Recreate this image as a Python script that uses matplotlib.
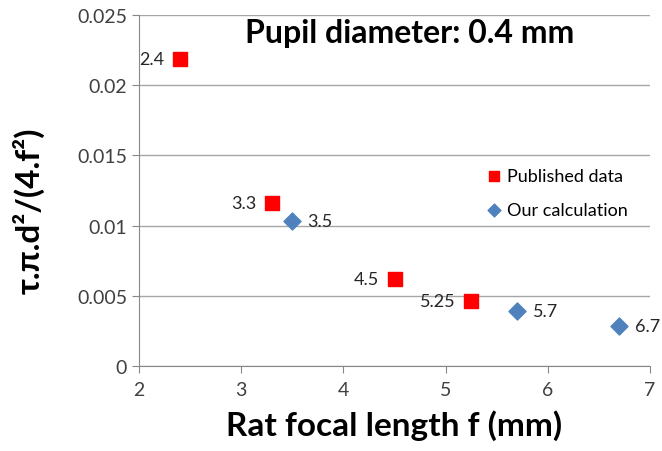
import matplotlib
matplotlib.use("Agg")
import matplotlib.pyplot as plt

plt.rcParams['font.family'] = ['Lato', 'DejaVu Sans']

# Published data (red squares)
pub_f = [2.4, 3.3, 4.5, 5.25]
pub_val = [0.02186, 0.01161, 0.0062, 0.00463]
pub_lbl = ['2.4', '3.3', '4.5', '5.25']

# Our calculation (blue diamonds)
calc_f = [3.5, 5.7, 6.7]
calc_val = [0.01033, 0.00392, 0.00285]
calc_lbl = ['3.5', '5.7', '6.7']

fig = plt.figure(figsize=(6.62, 4.52), dpi=100)
ax = fig.add_axes([0.21, 0.188, 0.772, 0.777])

ax.scatter(pub_f, pub_val, marker='s', s=110, color='#ff0000', label='Published data', zorder=3)
ax.scatter(calc_f, calc_val, marker='D', s=75, color='#4f81bd', label='Our calculation', zorder=3)

for x, y, t in zip(pub_f, pub_val, pub_lbl):
    ax.annotate(t, (x, y), xytext=(-11, 0), textcoords='offset points',
                ha='right', va='center', fontsize=13, color='#262626')
for x, y, t in zip(calc_f, calc_val, calc_lbl):
    ax.annotate(t, (x, y), xytext=(11, 0), textcoords='offset points',
                ha='left', va='center', fontsize=13, color='#262626')

ax.set_xlim(2, 7)
ax.set_ylim(0, 0.025)
ax.set_xticks([2, 3, 4, 5, 6, 7])
ax.set_yticks([0, 0.005, 0.01, 0.015, 0.02, 0.025])
ax.set_yticklabels(['0', '0.005', '0.01', '0.015', '0.02', '0.025'])
ax.yaxis.grid(True, color='#a6a6a6', linewidth=1)
ax.set_axisbelow(True)
for s in ['top', 'right']:
    ax.spines[s].set_visible(False)
for s in ['left', 'bottom']:
    ax.spines[s].set_color('#888888')
ax.tick_params(axis='both', colors='#888888', labelcolor='#404040', labelsize=14, length=5)
ax.tick_params(axis='x', pad=6)

ax.set_xlabel('Rat focal length f (mm)', fontsize=24, fontweight='bold', labelpad=8)
ax.set_ylabel('τ.π.d²/(4.f²)', fontsize=24, fontweight='bold')
ax.yaxis.set_label_coords(-0.185, 0.445)
ax.text(0.53, 0.95, 'Pupil diameter: 0.4 mm', transform=ax.transAxes,
        ha='center', va='center', fontsize=23, fontweight='bold')

ax.legend(loc='upper left', bbox_to_anchor=(0.66, 0.585), frameon=False, fontsize=13,
          handletextpad=0.1, labelspacing=1.0, markerscale=0.75, handlelength=1.2,
          borderaxespad=0)

fig.savefig('out.png', dpi=100)
